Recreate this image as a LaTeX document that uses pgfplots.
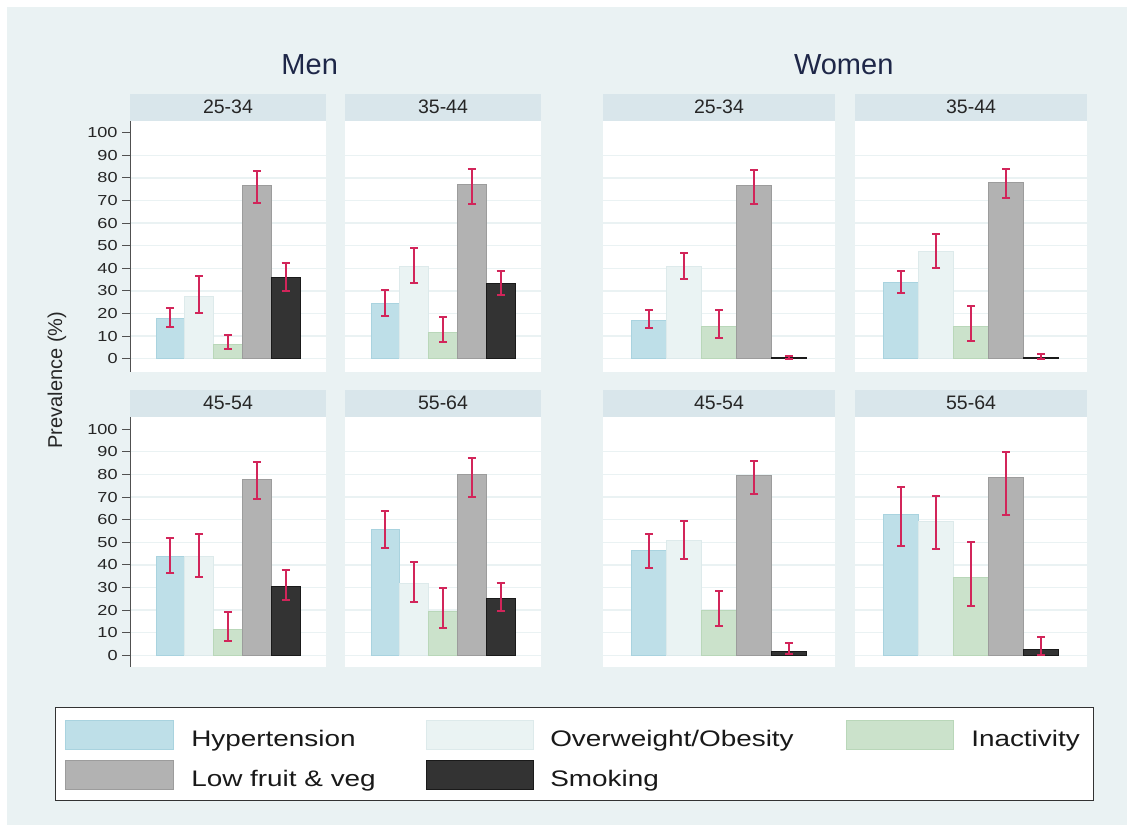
\documentclass[border=0pt]{standalone}
\usepackage{pgfplots}
\pgfplotsset{compat=1.18}
\usepackage{fontspec}
\setmainfont{Liberation Sans}
\definecolor{bgc}{HTML}{EAF2F3}
\definecolor{hdc}{HTML}{D9E6EB}
\definecolor{gridc}{HTML}{EAF2F3}
\definecolor{axc}{HTML}{505050}
\definecolor{errc}{HTML}{D2255A}
\definecolor{cH}{HTML}{BEDFE8}
\definecolor{cHd}{HTML}{A9D3DF}
\definecolor{cO}{HTML}{EAF3F3}
\definecolor{cOd}{HTML}{DDEAEB}
\definecolor{cI}{HTML}{CBE2CB}
\definecolor{cId}{HTML}{B9D7B9}
\definecolor{cL}{HTML}{B2B2B2}
\definecolor{cLd}{HTML}{9C9C9C}
\definecolor{cS}{HTML}{333333}
\definecolor{cSd}{HTML}{1A1A1A}
\definecolor{titc}{HTML}{1E2748}
\pgfplotsset{
  eb/.style={/pgfplots/error bars/y dir=both,/pgfplots/error bars/y explicit,
    /pgfplots/error bars/error bar style={line width=2pt,draw=errc,color=errc},
    /pgfplots/error bars/error mark options={rotate=90,mark size=4pt,line width=2pt,draw=errc,color=errc}},
  bb/.style={ybar,bar width=1,bar shift=0pt,line width=0.8pt,eb},
  bH/.style={bb,fill=cH,draw=cHd},
  bO/.style={bb,fill=cO,draw=cOd},
  bI/.style={bb,fill=cI,draw=cId},
  bL/.style={bb,fill=cL,draw=cLd},
  bS/.style={bb,fill=cS,draw=cSd},
  panel/.style={scale only axis,anchor=south west,axis x line=none,axis y line*=left,
    axis line style={-},xtick=\empty,ytick={0,10,...,90},ymajorgrids,
    grid style={gridc,line width=1.3pt},axis background/.style={fill=white},
    /pgf/number format/assume math mode=true},
  men/.style={panel,width=196pt,xmin=-0.4,xmax=6.4},
  women/.style={panel,width=232pt,xmin=-0.315,xmax=6.315},
  row1/.style={height=251pt,ymin=-5.88,ymax=105.2},
  row2/.style={height=250pt,ymin=-5.18,ymax=105.4},
  leftax/.style={y axis line style={draw=axc,line width=1pt},ytick style={draw=axc,line width=1pt},
    major tick length=8pt,tick align=outside,extra y ticks={100},extra y tick style={grid=none},
    tick label style={font=\fontsize{14.5}{14.5}\selectfont,text=black!85,xscale=1.25}},
  noax/.style={y axis line style={draw=none},ytick style={draw=none},major tick length=0pt,yticklabels={}},
}
\begin{document}
\begin{tikzpicture}[x=1pt,y=1pt]
\fill[white] (0,0) rectangle (1127,825);
\fill[bgc] (7,0) rectangle (1127,818);
% titles
\node[font=\fontsize{29}{32}\selectfont,text=titc,anchor=base] at (309.7,750.3) {Men};
\node[font=\fontsize{29}{32}\selectfont,text=titc,anchor=base] at (843.7,750.3) {Women};
\node[font=\fontsize{20}{24}\selectfont,text=black!85,rotate=90] at (57,445) {Prevalence (\%)};
% headers
\foreach \xa/\xb/\lab in {130/326/25-34,345/541/35-44,603/835/25-34,855/1087/35-44}{
  \fill[hdc] (\xa,704) rectangle (\xb,731);
  \node[font=\fontsize{19.5}{22}\selectfont,text=black!85,anchor=base] at ({(\xa+\xb)/2},711) {\lab};
}
\foreach \xa/\xb/\lab in {130/326/45-54,345/541/55-64,603/835/45-54,855/1087/55-64}{
  \fill[hdc] (\xa,408) rectangle (\xb,435);
  \node[font=\fontsize{19.5}{22}\selectfont,text=black!85,anchor=base] at ({(\xa+\xb)/2},415) {\lab};
}
% Men 25-34
\begin{axis}[men,row1,leftax,at={(130pt,453pt)}]
\addplot[bH] coordinates {(1,17.7) += (0,4.6) -= (0,3.8)};
\addplot[bO] coordinates {(2,27.7) += (0,9.0) -= (0,7.6)};
\addplot[bI] coordinates {(3,6.3) += (0,4.0) -= (0,2.2)};
\addplot[bL] coordinates {(4,76.8) += (0,6.4) -= (0,7.8)};
\addplot[bS] coordinates {(5,36.0) += (0,6.5) -= (0,6.1)};
\end{axis}
% Men 35-44
\begin{axis}[men,row1,noax,at={(345pt,453pt)}]
\addplot[bH] coordinates {(1,24.3) += (0,6.2) -= (0,5.4)};
\addplot[bO] coordinates {(2,40.9) += (0,8.1) -= (0,7.4)};
\addplot[bI] coordinates {(3,11.8) += (0,6.8) -= (0,4.4)};
\addplot[bL] coordinates {(4,77.1) += (0,6.8) -= (0,8.5)};
\addplot[bS] coordinates {(5,33.2) += (0,5.6) -= (0,5.2)};
\end{axis}
% Women 25-34
\begin{axis}[women,row1,noax,at={(603pt,453pt)}]
\addplot[bH] coordinates {(1,17.1) += (0,4.6) -= (0,3.7)};
\addplot[bO] coordinates {(2,40.9) += (0,5.9) -= (0,5.6)};
\addplot[bI] coordinates {(3,14.2) += (0,7.5) -= (0,5.2)};
\addplot[bL] coordinates {(4,76.8) += (0,6.8) -= (0,8.2)};
\addplot[bS] coordinates {(5,0.4) += (0,0.9) -= (0,0.4)};
\end{axis}
% Women 35-44
\begin{axis}[women,row1,noax,at={(855pt,453pt)}]
\addplot[bH] coordinates {(1,33.8) += (0,5.0) -= (0,4.6)};
\addplot[bO] coordinates {(2,47.6) += (0,7.6) -= (0,7.3)};
\addplot[bI] coordinates {(3,14.2) += (0,9.1) -= (0,6.2)};
\addplot[bL] coordinates {(4,78.2) += (0,5.9) -= (0,7.0)};
\addplot[bS] coordinates {(5,0.4) += (0,1.5) -= (0,0.4)};
\end{axis}
% Men 45-54
\begin{axis}[men,row2,leftax,at={(130pt,158pt)}]
\addplot[bH] coordinates {(1,43.8) += (0,8.0) -= (0,7.2)};
\addplot[bO] coordinates {(2,43.8) += (0,9.7) -= (0,9.0)};
\addplot[bI] coordinates {(3,11.4) += (0,7.6) -= (0,4.9)};
\addplot[bL] coordinates {(4,78.0) += (0,7.5) -= (0,9.0)};
\addplot[bS] coordinates {(5,30.4) += (0,7.2) -= (0,6.1)};
\end{axis}
% Men 55-64
\begin{axis}[men,row2,noax,at={(345pt,158pt)}]
\addplot[bH] coordinates {(1,55.6) += (0,8.3) -= (0,8.3)};
\addplot[bO] coordinates {(2,31.7) += (0,9.6) -= (0,8.1)};
\addplot[bI] coordinates {(3,19.2) += (0,10.6) -= (0,7.1)};
\addplot[bL] coordinates {(4,80.1) += (0,7.2) -= (0,9.9)};
\addplot[bS] coordinates {(5,25.1) += (0,6.9) -= (0,5.5)};
\end{axis}
% Women 45-54
\begin{axis}[women,row2,noax,at={(603pt,158pt)}]
\addplot[bH] coordinates {(1,46.2) += (0,7.6) -= (0,7.7)};
\addplot[bO] coordinates {(2,51.0) += (0,8.6) -= (0,8.2)};
\addplot[bI] coordinates {(3,19.9) += (0,8.7) -= (0,6.8)};
\addplot[bL] coordinates {(4,79.4) += (0,6.4) -= (0,8.0)};
\addplot[bS] coordinates {(5,1.9) += (0,3.4) -= (0,1.3)};
\end{axis}
% Women 55-64
\begin{axis}[women,row2,noax,at={(855pt,158pt)}]
\addplot[bH] coordinates {(1,62.1) += (0,12.2) -= (0,13.7)};
\addplot[bO] coordinates {(2,59.3) += (0,11.1) -= (0,12.4)};
\addplot[bI] coordinates {(3,34.5) += (0,15.5) -= (0,12.7)};
\addplot[bL] coordinates {(4,78.9) += (0,10.9) -= (0,16.8)};
\addplot[bS] coordinates {(5,2.7) += (0,5.3) -= (0,2.7)};
\end{axis}
% legend
\draw[black!80,line width=1pt,fill=white] (55,118) rectangle (1093,25);
\fill[cH,draw=cHd,line width=0.8pt] (65,104.3) rectangle (173,75.7);
\fill[cO,draw=cOd,line width=0.8pt] (426,104.3) rectangle (533,75.7);
\fill[cI,draw=cId,line width=0.8pt] (846,104.3) rectangle (953,75.7);
\fill[cL,draw=cLd,line width=0.8pt] (65,64.3) rectangle (173,35.7);
\fill[cS,draw=cSd,line width=0.8pt] (426,64.3) rectangle (533,35.7);
\begin{scope}[every node/.style={font=\fontsize{22.5}{24}\selectfont,text=black!90,anchor=base west,inner sep=0pt,xscale=1.24}]
\node at (191,78.3) {Hypertension};
\node at (550,78.3) {Overweight/Obesity};
\node at (971,78.3) {Inactivity};
\node at (191,38.3) {Low fruit \& veg};
\node at (550,38.3) {Smoking};
\end{scope}
\end{tikzpicture}
\end{document}
